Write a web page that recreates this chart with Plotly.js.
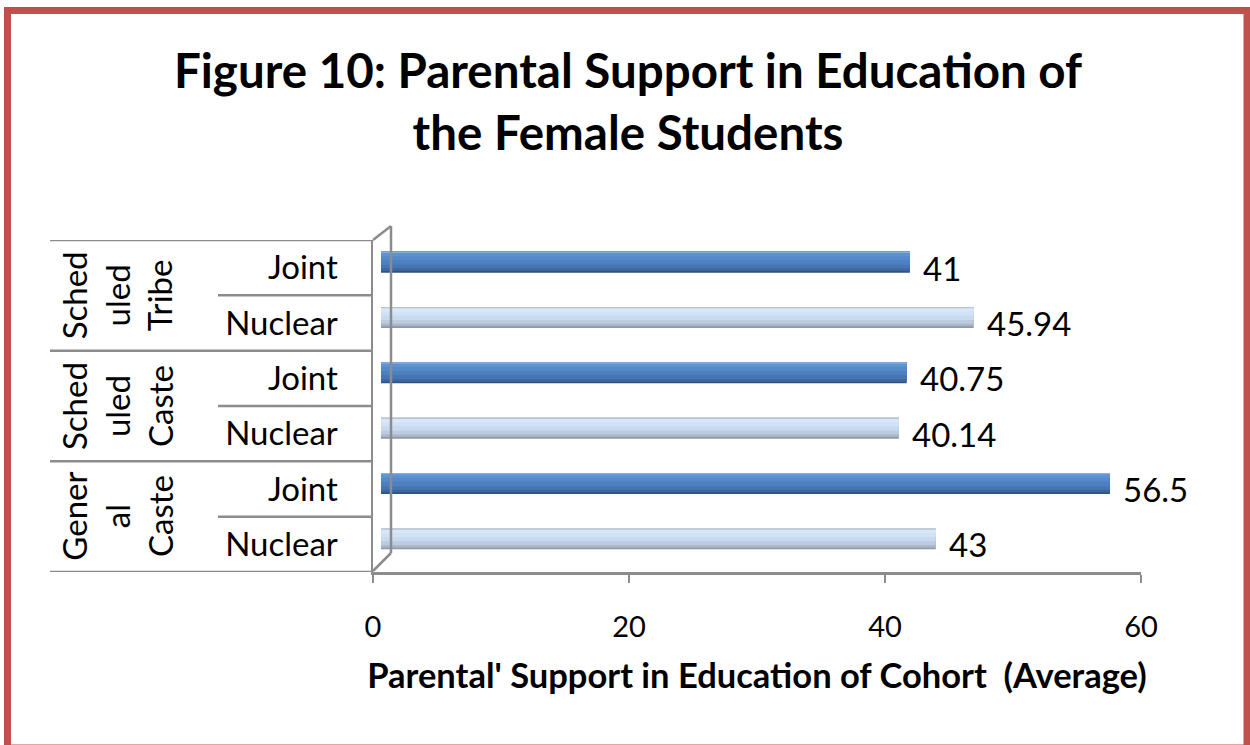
<!DOCTYPE html>
<html>
<head>
<meta charset="utf-8">
<script src="https://cdn.plot.ly/plotly-3.0.1.min.js"></script>
<style>html,body{margin:0;padding:0;background:#fff;}#chart{width:1250px;height:745px;}</style>
</head>
<body>
<div id="chart"></div>
<script>
// ---- data ----
const groups = ["Scheduled Tribe", "Scheduled Tribe", "Scheduled Caste", "Scheduled Caste", "General Caste", "General Caste"];
const family = ["Joint", "Nuclear", "Joint", "Nuclear", "Joint", "Nuclear"];
const values = [41, 45.94, 40.75, 40.14, 56.5, 43];
const groupNames = ["Scheduled Tribe", "Scheduled Caste", "General Caste"];
const groupLabels = ["Sched<br>uled<br>Tribe", "Sched<br>uled<br>Caste", "Gener<br>al<br>Caste"];
const xTicks = [0, 20, 40, 60];
const titleText = "Figure 10: Parental Support in Education of<br>the Female Students";
const xTitle = "Parental' Support in Education of Cohort  (Average)";

// ---- helpers ----
const W = 1250, H = 745;
const X = px => px / W;
const Y = py => 1 - py / H;
const keys = groups.map((g, i) => g + " | " + family[i]);
const idx = keys.map((k, i) => i);
const FONT = "Lato, 'Open Sans', sans-serif";

// cylinder shading bands, top to bottom
const BAR_W = 0.38;
const bandW = [0.025, 0.06, 0.07, 0.08, 0.07, 0.045, 0.03];
const jointShade = ["#8aaedc", "#5f92d2", "#5689ca", "#4e80c0", "#4675b1", "#3c679d", "#2f5280"];
const nucShade = ["#b8c3d0", "#dae7f8", "#d2e2f6", "#c8daf0", "#bccbe0", "#aab6c6", "#8e99a8"];

const traces = [];
let ends = [], acc = 0;
bandW.forEach(w => { acc += w; ends.push(acc); });
for (let k = bandW.length - 1; k >= 0; k--) {
  traces.push({type: "bar", orientation: "h", x: values, y: keys, xaxis: "x", yaxis: "y",
    width: ends[k], offset: -BAR_W / 2,
    marker: {color: family.map(f => f === "Joint" ? jointShade[k] : nucShade[k]), line: {width: 0}},
    hoverinfo: k === bandW.length - 1 ? "x+y" : "skip"});
}

const grey = "#8c8c8c";
const shapes = [];
// table lines
for (let b = 0; b <= keys.length; b++) {
  const full = (b % 2 === 0);
  shapes.push({type: "line", xref: "paper", yref: "y2", x0: X(full ? 50 : 218), x1: X(373),
    y0: b - 0.5, y1: b - 0.5, line: {color: grey, width: 2.5}});
}
// 3D wall
shapes.push({type: "line", xref: "paper", yref: "paper", x0: X(373), y0: Y(240), x1: X(391), y1: Y(226), line: {color: grey, width: 2.5}});
shapes.push({type: "line", xref: "paper", yref: "paper", x0: X(391), y0: Y(226), x1: X(391), y1: Y(553), line: {color: grey, width: 2.5}});
shapes.push({type: "line", xref: "paper", yref: "paper", x0: X(391), y0: Y(553), x1: X(373), y1: Y(571), line: {color: grey, width: 2.5}});
// red frame
shapes.push({type: "rect", xref: "paper", yref: "paper", x0: X(7.5), x1: X(1247), y0: Y(748), y1: Y(10.5), line: {color: "#c0504d", width: 7}});

const annotations = groupNames.map((g, j) => {
  const pos = idx.filter(i => groups[i] === g);
  const c = pos.reduce((a, b) => a + b, 0) / pos.length;
  return {xref: "paper", yref: "y2", x: X(52), y: c, text: groupLabels[j], textangle: -90,
    showarrow: false, align: "center", font: {family: FONT, size: 33, color: "#000"}};
});
// value labels
values.forEach((v, i) => {
  annotations.push({xref: "x", yref: "y2", x: v, y: i, text: String(v), xanchor: "left",
    yanchor: "middle", xshift: 11, yshift: 0, showarrow: false,
    font: {family: FONT, size: 33, color: "#000"}});
});

const layout = {
  width: W, height: H, margin: {l: 0, r: 0, t: 0, b: 0},
  paper_bgcolor: "#fff", plot_bgcolor: "rgba(0,0,0,0)",
  showlegend: false, barmode: "overlay",
  title: {text: titleText, font: {family: FONT, size: 47.5, weight: 700, color: "#000"},
    x: X(628), xanchor: "center", xref: "paper", y: Y(88), yanchor: "top", yref: "paper"},
  xaxis: {domain: [X(381), X(1155)], range: [0, 60], visible: false, anchor: "y", fixedrange: true},
  yaxis: {domain: [Y(566.5), Y(234.5)], type: "category", categoryorder: "array", categoryarray: keys,
    range: [keys.length - 0.5, -0.5], visible: false, anchor: "x", fixedrange: true},
  xaxis2: {domain: [X(373), X(1141)], range: [0, 60], anchor: "y2", tickvals: xTicks,
    ticktext: xTicks.map(String), ticks: "outside", ticklen: 8, tickwidth: 2.5, tickcolor: grey,
    showline: true, linecolor: grey, linewidth: 2.5, showgrid: false, zeroline: false,
    tickfont: {family: FONT, size: 29, color: "#000"}, ticklabelstandoff: 20,
    title: {text: xTitle, font: {family: FONT, size: 34.5, weight: 700, color: "#000"}, standoff: 22}},
  yaxis2: {domain: [Y(572), Y(240)], range: [keys.length - 0.5, -0.5], anchor: "x2",
    tickvals: idx, ticktext: family, ticks: "", showline: true, linecolor: grey, linewidth: 2.5,
    showgrid: false, zeroline: false, tickfont: {family: FONT, size: 33, color: "#000"},
    ticklabelstandoff: 26},
  shapes: shapes, annotations: annotations
};

Plotly.newPlot("chart", traces, layout, {displayModeBar: false, staticPlot: true});
</script>
</body>
</html>
